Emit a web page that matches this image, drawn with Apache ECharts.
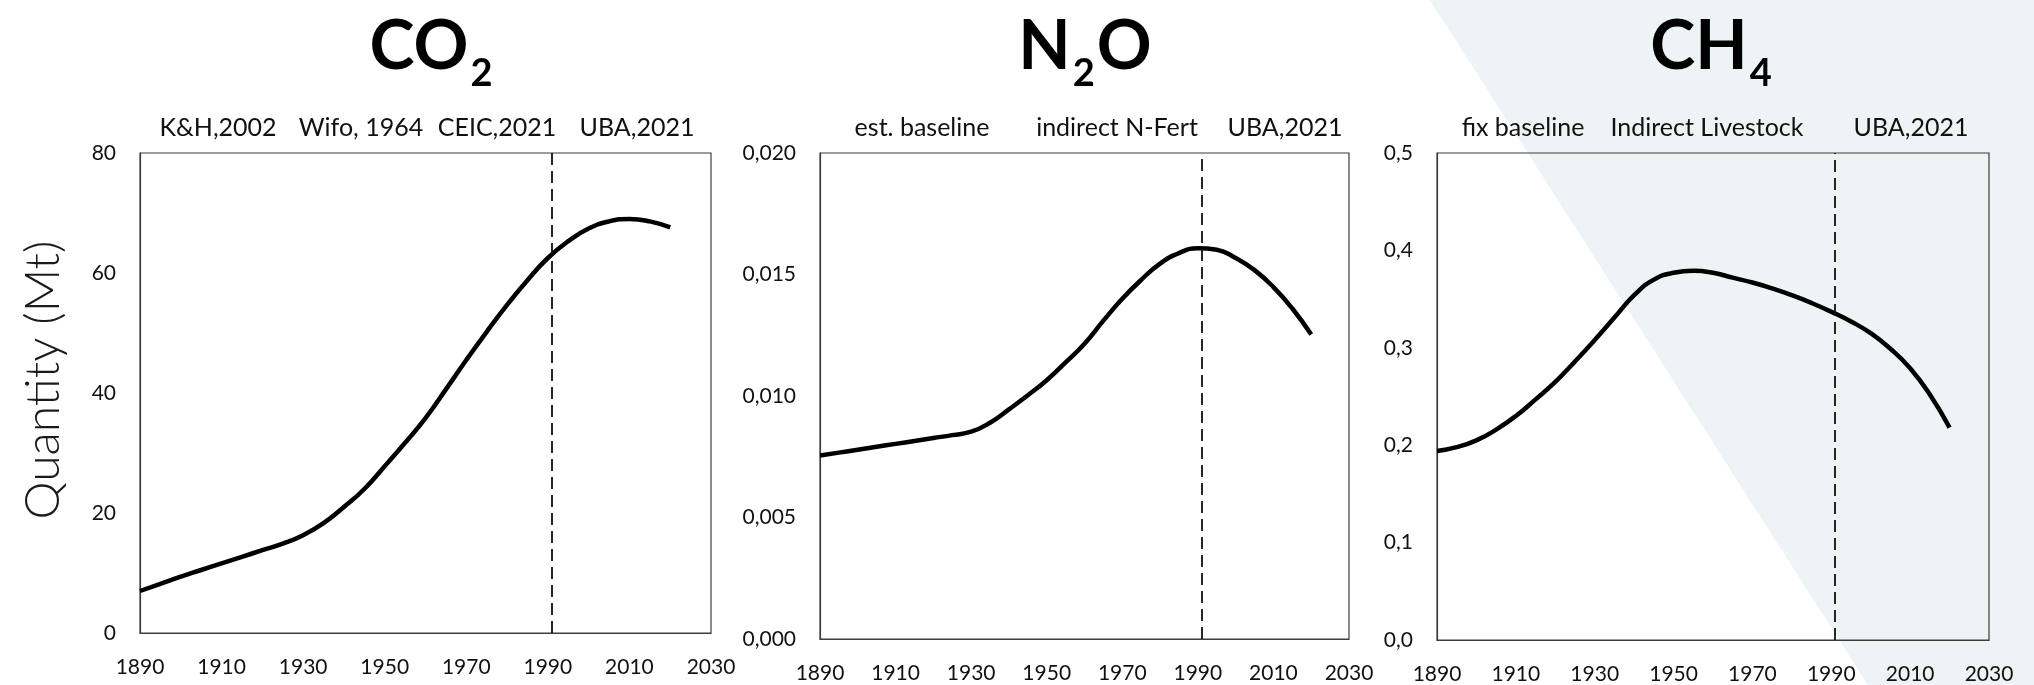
<!DOCTYPE html>
<html>
<head>
<meta charset="utf-8">
<script src="https://cdn.jsdelivr.net/npm/echarts@6/dist/echarts.min.js"></script>
<style>
  html, body { margin: 0; padding: 0; background: #ffffff; }
  #chart { width: 2034px; height: 685px; }
</style>
</head>
<body>
<div id="chart"></div>
<script>
// Years shared by all three gases (5-year steps)
const years = [1890, 1895, 1900, 1905, 1910, 1915, 1920, 1925, 1930, 1935, 1940, 1945, 1950,
  1955, 1960, 1965, 1970, 1975, 1980, 1985, 1990, 1995, 2000, 2005, 2010, 2015, 2020];

// Emissions, Mt
const co2 = [7.0, 8.2, 9.4, 10.5, 11.6, 12.7, 13.8, 14.9, 16.3, 18.3, 21.0, 24.0, 27.8,
  31.7, 35.8, 40.6, 45.5, 50.2, 54.7, 58.8, 62.5, 65.3, 67.4, 68.6, 69.0, 68.6, 67.6];
const n2o = [0.00755, 0.00767, 0.00779, 0.00791, 0.00803, 0.00815, 0.00827, 0.00839, 0.00853,
  0.00890, 0.00945, 0.01003, 0.01065, 0.01138, 0.01215, 0.01310, 0.01400, 0.01478, 0.01545,
  0.01588, 0.01608, 0.01602, 0.01568, 0.01518, 0.01448, 0.01360, 0.01253];
const ch4 = [0.194, 0.198, 0.205, 0.216, 0.230, 0.247, 0.265, 0.286, 0.308, 0.331, 0.354,
  0.370, 0.377, 0.379, 0.377, 0.372, 0.367, 0.361, 0.354, 0.346, 0.337, 0.327, 0.315,
  0.299, 0.279, 0.252, 0.218];

// Year where the data source switches to the national inventory
const inventoryStart = 1991;

// Tick labels
const xTicks = ['1890', '1910', '1930', '1950', '1970', '1990', '2010', '2030'];
const co2Ticks = ['0', '20', '40', '60', '80'];
const n2oTicks = ['0,000', '0,005', '0,010', '0,015', '0,020'];
const ch4Ticks = ['0,0', '0,1', '0,2', '0,3', '0,4', '0,5'];

// Source notes above each panel
const co2Sources = ['K&H,2002', 'Wifo, 1964', 'CEIC,2021', 'UBA,2021'];
const n2oSources = ['est. baseline', 'indirect N-Fert', 'UBA,2021'];
const ch4Sources = ['fix baseline', 'Indirect Livestock', 'UBA,2021'];

const FONT = 'Lato, "Open Sans", "DejaVu Sans", sans-serif';
const INK = '#111111';

const grids = [
  { left: 140, top: 153, width: 571, height: 480 },
  { left: 820, top: 153, width: 529, height: 486 },
  { left: 1437, top: 153, width: 552, height: 487 }
];
const yRanges = [
  { max: 80, interval: 20, ticks: co2Ticks },
  { max: 0.02, interval: 0.005, ticks: n2oTicks },
  { max: 0.5, interval: 0.1, ticks: ch4Ticks }
];
const values = [co2, n2o, ch4];

function pairs(v) { return years.map((y, i) => [y, v[i]]); }

const chart = echarts.init(document.getElementById('chart'), null, { renderer: 'canvas' });

// Chemical formula with a lowered subscript digit
function formula(main, sub, tail) {
  return '{m|' + main + '}{s|' + sub + '}' + (tail ? '{m|' + tail + '}' : '');
}
const titleRich = {
  m: { fontFamily: FONT, fontSize: 68, fontWeight: 'bold', color: '#000', lineHeight: 74, verticalAlign: 'top' },
  s: { fontFamily: FONT, fontSize: 38, fontWeight: 'bold', color: '#000', lineHeight: 38, verticalAlign: 'top', padding: [42, 2, 0, 2] }
};

function noteTexts(list, xs) {
  return list.map((t, i) => ({
    type: 'text', x: xs[i], y: 128, z: 5,
    style: { text: t, font: '25px ' + FONT, fill: INK, textAlign: 'center', textVerticalAlign: 'middle' }
  }));
}

const option = {
  backgroundColor: '#ffffff',
  animation: false,
  title: [
    { text: formula('CO', '2'), left: 427, top: 8, textAlign: 'center', textStyle: { rich: titleRich } },
    { text: formula('N', '2', 'O'), left: 1080, top: 8, textAlign: 'center', textStyle: { rich: titleRich } },
    { text: formula('CH', '4'), left: 1707, top: 8, textAlign: 'center', textStyle: { rich: titleRich } }
  ],
  graphic: [
    {
      type: 'polygon', z: -100, silent: true,
      shape: { points: [[1430, 0], [2034, 0], [2034, 685], [1868, 685]] },
      style: { fill: '#eef3f6' }
    },
    {
      type: 'text', x: 44, y: 380, rotation: Math.PI / 2, z: 5,
      style: {
        text: 'Quantity (Mt)', font: '300 48px ' + FONT, fill: '#1a1a1a',
        textAlign: 'center', textVerticalAlign: 'middle'
      }
    }
  ].concat(
    noteTexts(co2Sources, [218, 361, 497, 637]),
    noteTexts(n2oSources, [922, 1117, 1285]),
    noteTexts(ch4Sources, [1523, 1707, 1911])
  ),
  grid: grids.map(g => Object.assign({
    show: true, borderColor: '#3c3c3c', borderWidth: 1.2, backgroundColor: 'transparent'
  }, g)),
  xAxis: grids.map((g, i) => ({
    type: 'value', gridIndex: i, min: 1890, max: 2030, interval: 20,
    axisLine: { show: true, lineStyle: { color: '#3c3c3c', width: 1.2 } },
    axisTick: { show: false }, splitLine: { show: false },
    axisLabel: {
      margin: 24, fontFamily: FONT, fontSize: 21, color: INK,
      formatter: (v) => xTicks[Math.round((v - 1890) / 20)]
    }
  })),
  yAxis: grids.map((g, i) => ({
    type: 'value', gridIndex: i, min: 0, max: yRanges[i].max, interval: yRanges[i].interval,
    axisLine: { show: true, lineStyle: { color: '#3c3c3c', width: 1.2 } },
    axisTick: { show: false }, splitLine: { show: false },
    axisLabel: {
      margin: 24, fontFamily: FONT, fontSize: 21, color: INK,
      formatter: (v) => yRanges[i].ticks[Math.round(v / yRanges[i].interval)]
    }
  })),
  series: values.map((v, i) => ({
    type: 'line', xAxisIndex: i, yAxisIndex: i,
    data: pairs(v), smooth: true, showSymbol: false, z: 3,
    lineStyle: { color: '#000', width: 4.5 },
    markLine: {
      silent: true, symbol: ['none', 'none'], label: { show: false },
      lineStyle: { color: '#111', width: 1.8, type: [12, 6] },
      data: [{ xAxis: inventoryStart }]
    }
  }))
};

chart.setOption(option);
</script>
</body>
</html>
